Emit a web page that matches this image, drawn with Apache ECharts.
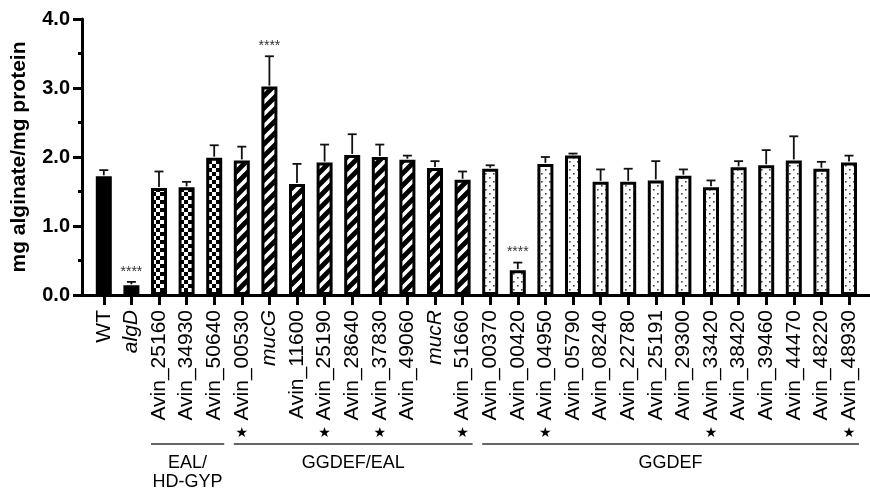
<!DOCTYPE html>
<html><head><meta charset="utf-8">
<script src="https://cdn.jsdelivr.net/npm/echarts@6/dist/echarts.min.js"></script>
<style>html,body{margin:0;padding:0;background:#fff}#c{width:870px;height:491px}</style>
</head><body><div id="c"></div>
<script>
const categories = ['WT','algD','Avin_25160','Avin_34930','Avin_50640','Avin_00530','mucG','Avin_11600','Avin_25190','Avin_28640','Avin_37830','Avin_49060','mucR','Avin_51660','Avin_00370','Avin_00420','Avin_04950','Avin_05790','Avin_08240','Avin_22780','Avin_25191','Avin_29300','Avin_33420','Avin_38420','Avin_39460','Avin_44470','Avin_48220','Avin_48930'];
const values = [1.72,0.14,1.55,1.56,1.99,1.95,3.02,1.61,1.92,2.03,2.00,1.96,1.84,1.67,1.83,0.36,1.90,2.02,1.64,1.64,1.66,1.73,1.56,1.85,1.88,1.95,1.83,1.92];
const errors = [0.09,0.05,0.24,0.08,0.18,0.20,0.44,0.29,0.26,0.30,0.18,0.06,0.10,0.12,0.05,0.11,0.10,0.03,0.18,0.19,0.28,0.09,0.10,0.09,0.22,0.35,0.10,0.10];
const fills = ['solid','solid','checker','checker','checker','hatch','hatch','hatch','hatch','hatch','hatch','hatch','hatch','hatch','dots','dots','dots','dots','dots','dots','dots','dots','dots','dots','dots','dots','dots','dots'];
const starred = ['Avin_00530','Avin_25190','Avin_37830','Avin_51660','Avin_04950','Avin_33420','Avin_48930'];
const italicNames = ['algD','mucG','mucR'];
const significant = ['algD','mucG','Avin_00420'];
const groupNames = ['EAL/\nHD-GYP','GGDEF/EAL','GGDEF'];
const groupFrom = ['Avin_25160','Avin_00530','Avin_00370'];
const groupTo = ['Avin_50640','Avin_51660','Avin_48930'];
const yTicks = [0,1,2,3,4];

const FONT = '"Liberation Sans", Arial, Helvetica, sans-serif';

function tile(w,h,draw){const c=document.createElement('canvas');c.width=w;c.height=h;const g=c.getContext('2d');g.fillStyle='#fff';g.fillRect(0,0,w,h);draw(g);return c;}
const patterns = {
  solid: '#000',
  checker: {image: tile(8,8,g=>{g.fillStyle='#000';g.fillRect(0,0,4,4);g.fillRect(4,4,4,4);}), repeat:'repeat'},
  hatch: {image: tile(12,12,g=>{g.strokeStyle='#000';g.lineWidth=4.8;g.lineCap='square';
    [[-6,6,6,-6],[0,12,12,0],[6,18,18,6]].forEach(l=>{g.beginPath();g.moveTo(l[0],l[1]);g.lineTo(l[2],l[3]);g.stroke();});}), repeat:'repeat'},
  dots: {image: tile(8,8,g=>{g.fillStyle='#444';g.fillRect(1,1,1.6,1.6);g.fillRect(5,5,1.6,1.6);}), repeat:'repeat'}
};

const chart = echarts.init(document.getElementById('c'), null, {renderer:'canvas'});

const barData = values.map((v,i)=>({value:v, itemStyle:{color:patterns[fills[i]]}}));
const errData = categories.map((c,i)=>[i, values[i], errors[i], significant.includes(c)?1:0]);

function xLabel(val){
  return italicNames.includes(val) ? '{i|'+val+'}' : '{n|'+val+'}';
}

const option = {
  backgroundColor:'#fff',
  animation:false,
  grid:[
    {left:90, right:7.2, top:19, bottom:196},
    {left:82, right:0, top:19, bottom:196}
  ],
  xAxis:[
    {type:'category', gridIndex:0, data:categories, boundaryGap:true,
     axisLine:{show:false},
     axisTick:{show:true, alignWithLabel:true, length:10, lineStyle:{color:'#000', width:3}},
     axisLabel:{rotate:90, margin:15, interval:0, formatter:xLabel,
       rich:{n:{fontFamily:FONT, fontSize:21, color:'#000'}, i:{fontFamily:FONT, fontSize:21, fontStyle:'italic', color:'#000'}}},
     splitLine:{show:false}},
    {type:'value', gridIndex:1, min:0, max:1,
     axisLine:{show:true, onZero:false, lineStyle:{color:'#000', width:3}},
     axisTick:{show:false}, axisLabel:{show:false}, splitLine:{show:false}}
  ],
  yAxis:[
    {type:'value', gridIndex:0, min:0, max:4, interval:1, show:false},
    {type:'value', gridIndex:1, min:yTicks[0], max:yTicks[yTicks.length-1], interval:1,
     name:'mg alginate/mg protein', nameLocation:'middle', nameGap:52,
     nameTextStyle:{fontFamily:FONT, fontSize:21, fontWeight:'bold', color:'#000'},
     axisLine:{show:true, lineStyle:{color:'#000', width:3}},
     axisTick:{show:true, length:9, lineStyle:{color:'#000', width:3}},
     minorTick:{show:true, splitNumber:2, length:4, lineStyle:{color:'#000', width:3}},
     axisLabel:{margin:12, fontFamily:FONT, fontSize:20, fontWeight:'bold', color:'#000', formatter:v=>v.toFixed(1)},
     splitLine:{show:false}}
  ],
  series:[
    {type:'bar', xAxisIndex:0, yAxisIndex:0, data:barData, barWidth:16,
     itemStyle:{borderColor:'#000', borderWidth:3}, z:2},
    {type:'custom', xAxisIndex:0, yAxisIndex:0, data:errData, encode:{x:0,y:1}, z:3,
     renderItem:function(params, api){
       const i=api.value(0), v=api.value(1), e=api.value(2), s=api.value(3);
       const p0=api.coord([i,v]), p1=api.coord([i,v+e]);
       const st={stroke:'#111', lineWidth:1.8};
       const ch=[
         {type:'line', shape:{x1:p0[0],y1:p0[1]-1,x2:p1[0],y2:p1[1]}, style:st},
         {type:'line', shape:{x1:p1[0]-4.5,y1:p1[1],x2:p1[0]+4.5,y2:p1[1]}, style:st}
       ];
       if(s){ch.push({type:'text', style:{text:'****', x:p1[0], y:p1[1]-3, align:'center', verticalAlign:'bottom', font:'14px '+FONT, fill:'#333'}});}
       return {type:'group', children:ch};
     }}
  ]
};
chart.setOption(option);

// annotations below the axis: stars and group brackets, positioned from the axis scale
const y0 = chart.convertToPixel({yAxisIndex:0}, 0);
const xOf = name => chart.convertToPixel({xAxisIndex:0}, categories.indexOf(name));
const gfx = [];
starred.forEach(n=>{
  gfx.push({type:'text', x:xOf(n), y:y0+138, style:{text:'★', font:'14px "DejaVu Sans", sans-serif', fill:'#000', align:'center', verticalAlign:'middle'}});
});
groupNames.forEach((g,k)=>{
  const a = xOf(groupFrom[k]) - 8, b = xOf(groupTo[k]) + 10;
  gfx.push({type:'line', shape:{x1:a, y1:y0+149, x2:b, y2:y0+149}, style:{stroke:'#333', lineWidth:1.6}});
  gfx.push({type:'text', x:(a+b)/2, y:y0+159, style:{text:g, font:'18px '+FONT, fill:'#000', align:'center', verticalAlign:'top', lineHeight:19}});
});
chart.setOption({graphic:{elements:gfx}});
</script></body></html>
